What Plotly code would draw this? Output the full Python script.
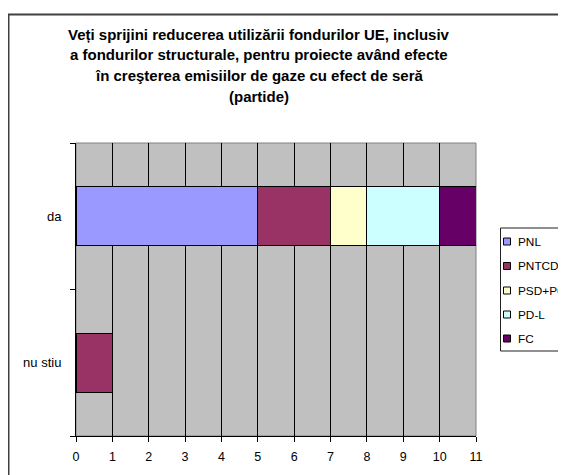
import plotly.graph_objects as go

# data
categories = ["da", "nu stiu"]
parties = ["PNL", "PNTCD", "PSD+PC", "PD-L", "FC"]
pnl = [5, None]
pntcd = [2, 1]
psd_pc = [1, None]
pd_l = [2, None]
fc = [1, None]
series = [pnl, pntcd, psd_pc, pd_l, fc]
colors = ["#9999FF", "#993366", "#FFFFCC", "#CCFFFF", "#660066"]
x_ticks = list(range(0, 12))
title_lines = [
    "Veți sprijini reducerea utilizării fondurilor UE, inclusiv",
    "a fondurilor structurale, pentru proiecte având efecte",
    "în creşterea emisiilor de gaze cu efect de seră",
    "(partide)",
]

OFF = 8  # page body margin
W, H = 566 - OFF, 475 - OFF
L, R, T, B = 76 - OFF, 476 - OFF, 143 - OFF, 436 - OFF
FONT = "Liberation Sans, Arial, sans-serif"


# positions measured on the screen -> paper coords
def px_x(p):
    return (p - OFF - L) / (R - L)


def px_y(p):
    return (B - (p - OFF)) / (B - T)


fig = go.Figure()
for name, vals, col in zip(parties, series, colors):
    fig.add_trace(go.Bar(
        y=categories, x=vals, name=name, orientation="h",
        width=0.4,
        marker=dict(color=col, line=dict(color="black", width=1)),
        showlegend=False,
    ))

shapes = [
    # gray frame of plot area (top / right)
    dict(type="rect", xref="paper", yref="paper", x0=0, x1=1, y0=0, y1=1,
         line=dict(color="#808080", width=1), layer="between"),
    # outer chart border
    dict(type="rect", xref="paper", yref="paper",
         x0=px_x(8.5), x1=px_x(620), y0=px_y(520), y1=px_y(14.5),
         line=dict(color="#404040", width=2)),
    # legend box
    dict(type="rect", xref="paper", yref="paper",
         x0=px_x(500.5), x1=px_x(600), y0=px_y(351), y1=px_y(228),
         line=dict(color="#202020", width=1), fillcolor="white"),
]
annotations = []

# manual legend
leg_y = [241.5, 266, 290.5, 314.5, 338.5]
for name, col, yy in zip(parties, colors, leg_y):
    shapes.append(dict(type="rect", xref="paper", yref="paper",
                       x0=px_x(503.5), x1=px_x(510.5),
                       y0=px_y(yy + 3.5), y1=px_y(yy - 3.5),
                       fillcolor=col, line=dict(color="black", width=1)))
    annotations.append(dict(text=name, xref="paper", yref="paper",
                            x=px_x(515.5), y=px_y(yy), xanchor="left",
                            yanchor="middle", showarrow=False,
                            font=dict(family=FONT, size=11.8, color="black")))

# title lines
title_y = [34, 55, 75.5, 96]
for line, yy in zip(title_lines, title_y):
    annotations.append(dict(text="<b>" + line + "</b>", xref="paper", yref="paper",
                            x=px_x(258.5), y=px_y(yy), xanchor="center",
                            yanchor="middle", showarrow=False,
                            font=dict(family=FONT, size=15, color="black")))

fig.update_layout(
    width=W, height=H,
    margin=dict(l=L, r=W - R, t=T, b=H - B, autoexpand=False),
    barmode="stack",
    paper_bgcolor="white",
    plot_bgcolor="#C0C0C0",
    font=dict(family=FONT, size=12, color="black"),
    shapes=shapes,
    annotations=annotations,
    xaxis=dict(
        range=[0, 11], tickvals=x_ticks, showgrid=True, gridcolor="black",
        gridwidth=1, zeroline=False, showline=True, linecolor="black",
        linewidth=1, ticks="outside", ticklen=5, tickcolor="black",
        tickfont=dict(size=12.5), ticklabelstandoff=4, fixedrange=True,
    ),
    yaxis=dict(
        type="category", categoryorder="array",
        categoryarray=["nu stiu", "da"], range=[-0.5, 1.5],
        showgrid=False, showline=True, linecolor="black", linewidth=1,
        ticks="outside", tickson="boundaries", ticklen=5, tickcolor="black",
        tickfont=dict(size=13), ticklabelstandoff=11,
    ),
)

fig.write_html("out.html")
